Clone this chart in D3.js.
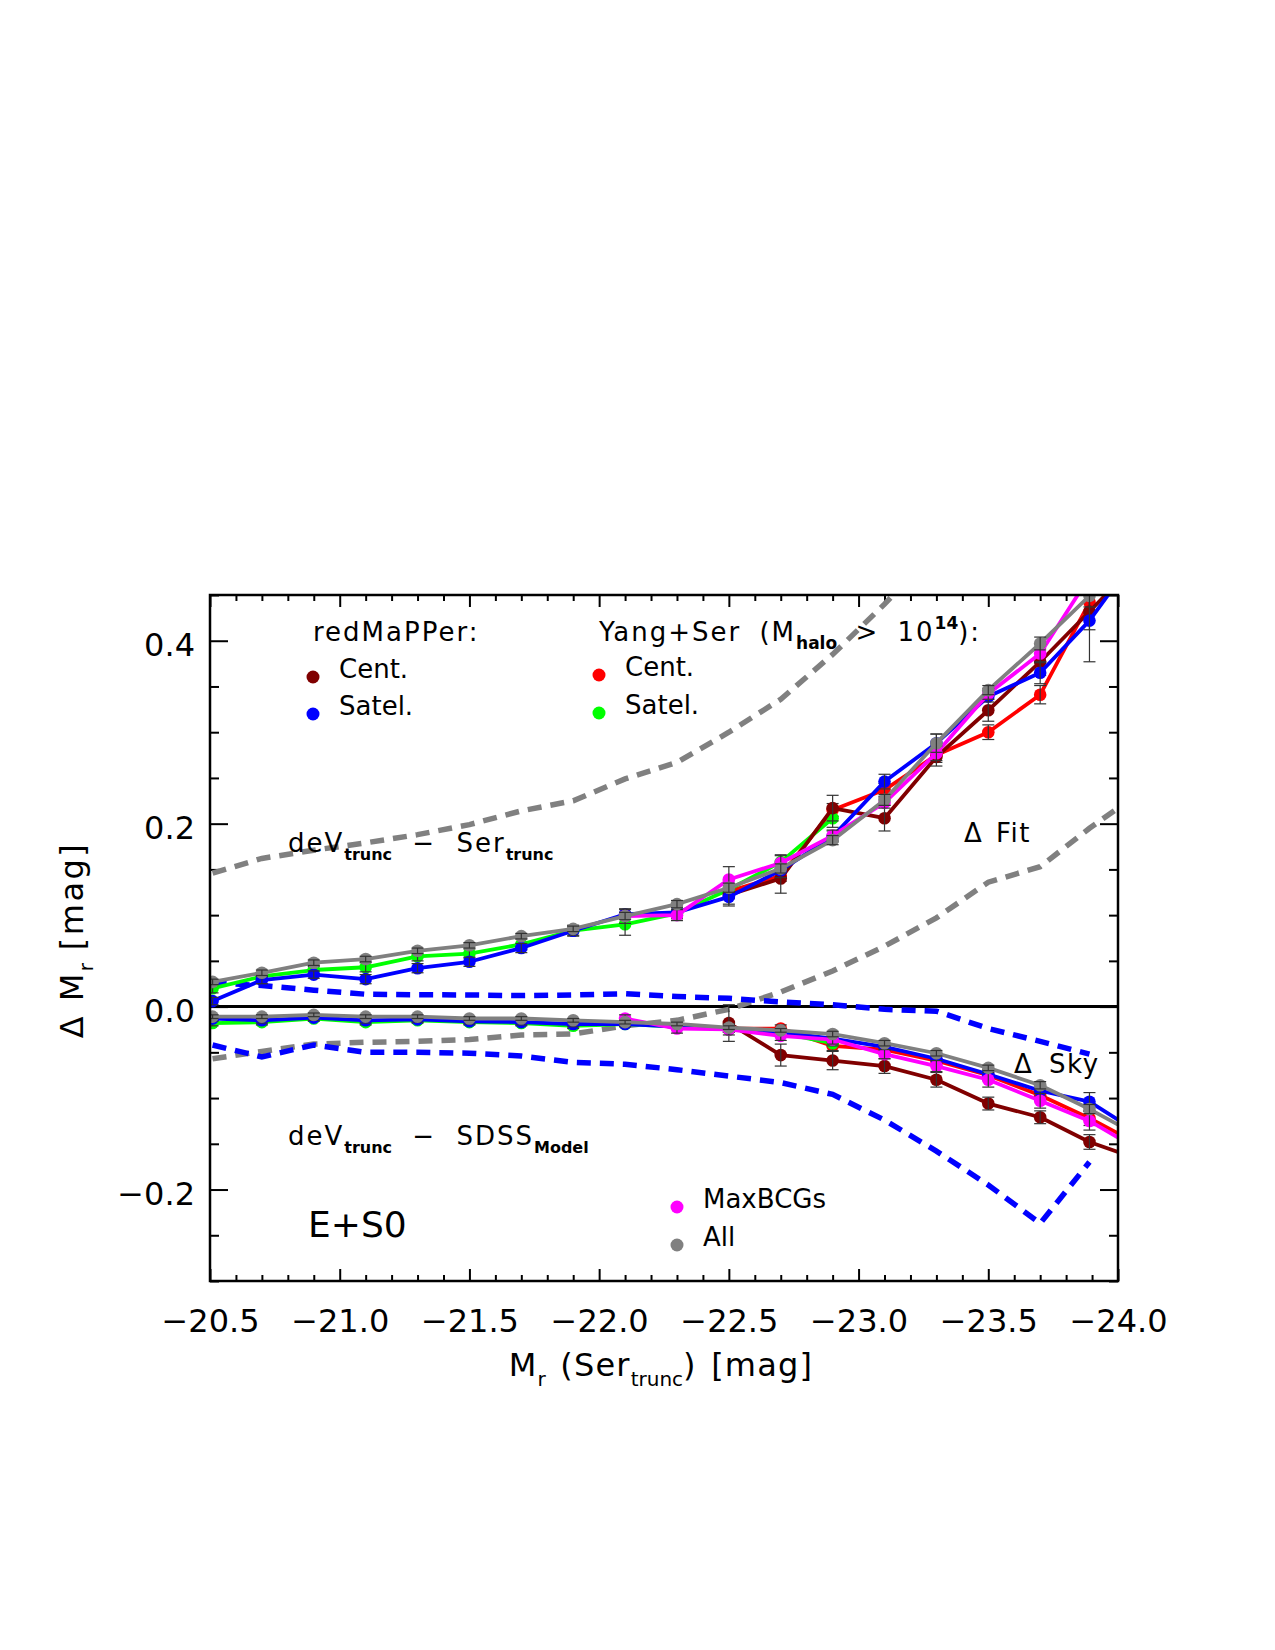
<!DOCTYPE html>
<html lang="en">
<head>
    <meta charset="UTF-8">
    <title>Delta M_r versus M_r (Ser_trunc)</title>
    <style>
        body { margin: 0; background: #fff; }
        svg text { font-family: "DejaVu Sans", sans-serif; white-space: pre; }
    </style>
</head>
<body>
    <div id="chart"></div>

    <script src="https://d3js.org/d3.v7.min.js"></script>
    <script>
        // magnitude bins (mean M_r in each 0.2 mag bin); last one sits past the frame
        const xBins = [-20.51, -20.7, -20.9, -21.1, -21.3, -21.5, -21.7, -21.9, -22.1, -22.3,
                       -22.5, -22.7, -22.9, -23.1, -23.3, -23.5, -23.7, -23.89, -24.09];

        // Delta Fit : deV_trunc - Ser_trunc
        const fitRmCent   = [null, null, null, null, null, null, null, null, null, null,
                             0.122, 0.140, 0.217, 0.206, 0.273, 0.324, 0.377, 0.432, 0.49];
        const fitRmSat    = [0.006, 0.029, 0.035, 0.030, 0.042, 0.049, 0.064, 0.083, 0.101, 0.103,
                             0.120, 0.149, 0.186, 0.246, 0.288, 0.339, 0.365, 0.422, 0.50];
        const fitYangCent = [null, null, null, null, null, null, null, null, null, null,
                             0.126, 0.143, 0.215, 0.237, 0.275, 0.300, 0.341, 0.442, 0.56];
        const fitYangSat  = [0.020, 0.033, 0.040, 0.043, 0.055, 0.058, 0.068, 0.083, 0.090, 0.102,
                             0.128, 0.158, 0.206, null, null, null, null, null, null];
        const fitMaxBCG   = [null, null, null, null, null, null, null, null, 0.099, 0.100,
                             0.139, 0.157, 0.187, 0.223, 0.277, 0.342, 0.386, 0.47, 0.55];
        const fitAll      = [0.027, 0.037, 0.048, 0.052, 0.061, 0.067, 0.077, 0.085, 0.099, 0.112,
                             0.130, 0.151, 0.182, 0.226, 0.288, 0.346, 0.397, 0.449, 0.51];

        const errFitRmCent   = [null, null, null, null, null, null, null, null, null, null,
                                0.012, 0.016, 0.014, 0.014, 0.010, 0.012, 0.015, 0.020, null];
        const errFitRmSat    = [0.004, 0.004, 0.004, 0.005, 0.005, 0.005, 0.005, 0.005, 0.005, 0.006,
                                0.008, 0.008, 0.006, 0.008, 0.010, 0.006, 0.012, 0.045, null];
        const errFitYangCent = [null, null, null, null, null, null, null, null, null, null,
                                0.006, 0.006, 0.007, 0.007, 0.008, 0.008, 0.010, 0.012, null];
        const errFitYangSat  = [0.005, 0.004, 0.004, 0.005, 0.005, 0.005, 0.006, 0.006, 0.012, 0.006,
                                0.010, 0.008, 0.010, null, null, null, null, null, null];
        const errFitMaxBCG   = [null, null, null, null, null, null, null, null, 0.008, 0.006,
                                0.014, 0.008, 0.006, 0.006, 0.008, 0.006, 0.010, 0.015, null];
        const errFitAll      = [0.003, 0.003, 0.003, 0.003, 0.003, 0.003, 0.003, 0.003, 0.004, 0.004,
                                0.005, 0.005, 0.005, 0.006, 0.010, 0.005, 0.007, 0.012, null];

        // Delta Sky : deV_trunc - SDSS_Model
        const skyRmCent   = [null, null, null, null, null, null, null, null, null, null,
                             -0.018, -0.053, -0.059, -0.065, -0.080, -0.106, -0.121, -0.148, -0.168];
        const skyRmSat    = [-0.013, -0.015, -0.012, -0.015, -0.014, -0.016, -0.017, -0.019, -0.019, -0.022,
                             -0.024, -0.028, -0.035, -0.044, -0.057, -0.074, -0.092, -0.104, -0.14];
        const skyYangCent = [null, null, null, null, null, null, null, null, null, null,
                             -0.024, -0.024, -0.043, -0.047, -0.059, -0.075, -0.097, -0.122, -0.152];
        const skyYangSat  = [-0.018, -0.017, -0.013, -0.017, -0.015, -0.017, -0.018, -0.021, -0.019, -0.022,
                             -0.025, -0.029, -0.040, null, null, null, null, null, null];
        const skyMaxBCG   = [null, null, null, null, null, null, null, null, -0.013, -0.024,
                             -0.025, -0.032, -0.036, -0.052, -0.065, -0.080, -0.103, -0.125, -0.158];
        const skyAll      = [-0.011, -0.011, -0.009, -0.011, -0.011, -0.013, -0.013, -0.015, -0.017, -0.019,
                             -0.023, -0.026, -0.030, -0.040, -0.051, -0.067, -0.086, -0.112, -0.143];

        const errSkyRmCent   = [null, null, null, null, null, null, null, null, null, null,
                                0.020, 0.012, 0.010, 0.008, 0.008, 0.007, 0.007, 0.008, null];
        const errSkyRmSat    = [0.003, 0.003, 0.003, 0.003, 0.003, 0.003, 0.003, 0.003, 0.003, 0.003,
                                0.004, 0.004, 0.004, 0.004, 0.005, 0.005, 0.006, 0.010, null];
        const errSkyYangCent = [null, null, null, null, null, null, null, null, null, null,
                                0.004, 0.004, 0.005, 0.005, 0.005, 0.006, 0.006, 0.008, null];
        const errSkyYangSat  = [0.003, 0.003, 0.003, 0.003, 0.003, 0.003, 0.003, 0.003, 0.003, 0.003,
                                0.003, 0.003, 0.003, null, null, null, null, null, null];
        const errSkyMaxBCG   = [null, null, null, null, null, null, null, null, 0.004, 0.005,
                                0.006, 0.005, 0.005, 0.005, 0.006, 0.008, 0.008, 0.010, null];
        const errSkyAll      = [0.002, 0.002, 0.002, 0.002, 0.002, 0.002, 0.002, 0.002, 0.002, 0.002,
                                0.002, 0.002, 0.003, 0.003, 0.003, 0.003, 0.004, 0.005, null];

        // dashed reference curves
        const dashFitGray = [0.146, 0.162, 0.171, 0.179, 0.188, 0.199, 0.214, 0.225, 0.249, 0.267,
                             0.300, 0.336, 0.385, 0.440, 0.500, null, null, null, null];
        const dashSkyGray = [-0.057, -0.049, -0.041, -0.039, -0.038, -0.036, -0.031, -0.030, -0.021, -0.015,
                             -0.003, 0.016, 0.039, 0.066, 0.097, 0.136, 0.153, 0.195, 0.235];
        const dashFitBlue = [0.026, 0.023, 0.018, 0.0135, 0.013, 0.0127, 0.012, 0.0127, 0.014, 0.011,
                             0.009, 0.005, 0.002, -0.003, -0.005, -0.024, -0.038, -0.052, null];
        const dashSkyBlue = [-0.042, -0.055, -0.042, -0.050, -0.050, -0.051, -0.054, -0.061, -0.063, -0.069,
                             -0.076, -0.083, -0.096, -0.124, -0.158, -0.195, -0.237, -0.170, null];

        const xMajor = [-20.5, -21.0, -21.5, -22.0, -22.5, -23.0, -23.5, -24.0];
        const yMajor = [-0.2, 0.0, 0.2, 0.4];

        const series = [
            { color: "#ff0000", fit: fitYangCent, fitErr: errFitYangCent, sky: skyYangCent, skyErr: errSkyYangCent },
            { color: "#00ff00", fit: fitYangSat,  fitErr: errFitYangSat,  sky: skyYangSat,  skyErr: errSkyYangSat },
            { color: "#800000", fit: fitRmCent,   fitErr: errFitRmCent,   sky: skyRmCent,   skyErr: errSkyRmCent },
            { color: "#0000ff", fit: fitRmSat,    fitErr: errFitRmSat,    sky: skyRmSat,    skyErr: errSkyRmSat },
            { color: "#ff00ff", fit: fitMaxBCG,   fitErr: errFitMaxBCG,   sky: skyMaxBCG,   skyErr: errSkyMaxBCG },
            { color: "#808080", fit: fitAll,      fitErr: errFitAll,      sky: skyAll,      skyErr: errSkyAll }
        ];

        const W = 1275, H = 1650;
        const plot = { left: 210, right: 1118, top: 595, bottom: 1281 };

        const svg = d3.select("#chart").append("svg")
            .attr("width", W)
            .attr("height", H)
            .style("background", "#fff");

        const x = d3.scaleLinear().domain([-20.5, -24.0]).range([plot.left, plot.right]);
        const y = d3.scaleLinear().domain([-0.3, 0.45]).range([plot.bottom, plot.top]);

        const fmt = d => (d < 0 ? "\u2212" : "") + Math.abs(d).toFixed(1);
        const isMajor = (list, v) => list.some(m => Math.abs(m - v) < 1e-6);
        const xMinor = x.ticks(35).filter(v => !isMajor(xMajor, v));
        const yMinor = y.ticks(15).filter(v => !isMajor(yMajor, v));

        svg.append("clipPath").attr("id", "clip")
          .append("rect")
            .attr("x", plot.left).attr("y", plot.top)
            .attr("width", plot.right - plot.left)
            .attr("height", plot.bottom - plot.top);

        // axes (ticks point inward on all four sides)
        function styleAxis(g) {
            g.select(".domain").remove();
            g.selectAll("line").attr("stroke", "#000").attr("stroke-width", 2);
            g.attr("font-size", 32).attr("font-family", "DejaVu Sans").attr("fill", "#000");
        }
        const axes = [
            [d3.axisBottom(x).tickValues(xMajor).tickSize(-12).tickPadding(28).tickFormat(fmt), 0, plot.bottom],
            [d3.axisBottom(x).tickValues(xMinor).tickSize(-6).tickFormat(""), 0, plot.bottom],
            [d3.axisTop(x).tickValues(xMajor).tickSize(-12).tickFormat(""), 0, plot.top],
            [d3.axisTop(x).tickValues(xMinor).tickSize(-6).tickFormat(""), 0, plot.top],
            [d3.axisLeft(y).tickValues(yMajor).tickSize(-18).tickPadding(15).tickFormat(fmt), plot.left, 0],
            [d3.axisLeft(y).tickValues(yMinor).tickSize(-9).tickFormat(""), plot.left, 0],
            [d3.axisRight(y).tickValues(yMajor).tickSize(-18).tickFormat(""), plot.right, 0],
            [d3.axisRight(y).tickValues(yMinor).tickSize(-9).tickFormat(""), plot.right, 0]
        ];
        axes.forEach(([ax, tx, ty]) => {
            svg.append("g")
                .attr("transform", `translate(${tx},${ty})`)
                .call(ax)
                .call(styleAxis);
        });
        svg.selectAll(".tick text").attr("fill", "#000");
        svg.selectAll("g").filter(function () { return this.getAttribute("text-anchor") === "end"; })
            .selectAll("text").attr("dy", "0.47em");

        const area = svg.append("g").attr("clip-path", "url(#clip)");

        area.append("line")
            .attr("x1", plot.left).attr("x2", plot.right)
            .attr("y1", y(0)).attr("y2", y(0))
            .attr("stroke", "#000").attr("stroke-width", 3);

        const line = d3.line()
            .defined(d => d[1] !== null)
            .x(d => x(d[0]))
            .y(d => y(d[1]));
        const pts = vals => xBins.map((xv, i) => [xv, vals[i], i]);

        [[dashFitGray, "#808080"], [dashSkyGray, "#808080"], [dashFitBlue, "#0000ff"], [dashSkyBlue, "#0000ff"]]
            .forEach(([vals, col]) => {
                area.append("path")
                    .datum(pts(vals))
                    .attr("d", line)
                    .attr("fill", "none")
                    .attr("stroke", col)
                    .attr("stroke-width", 5.5)
                    .attr("stroke-dasharray", "14,9");
            });

        function drawSeries(vals, errs, color) {
            const data = pts(vals);
            area.append("path")
                .datum(data)
                .attr("d", line)
                .attr("fill", "none")
                .attr("stroke", color)
                .attr("stroke-width", 3.8)
                .attr("stroke-linejoin", "round");

            const on = data.filter(d => d[1] !== null);
            area.append("g").selectAll("circle")
                .data(on)
                .join("circle")
                .attr("cx", d => x(d[0]))
                .attr("cy", d => y(d[1]))
                .attr("r", 6.3)
                .attr("fill", color);

            const eb = area.append("g")
                .attr("stroke", "#333")
                .attr("stroke-width", 1.2)
                .selectAll("g")
                .data(on.filter(d => errs[d[2]]))
                .join("g");
            eb.append("line")
                .attr("x1", d => x(d[0])).attr("x2", d => x(d[0]))
                .attr("y1", d => y(d[1] - errs[d[2]]))
                .attr("y2", d => y(d[1] + errs[d[2]]));
            [-1, 1].forEach(s => {
                eb.append("line")
                    .attr("x1", d => x(d[0]) - 6).attr("x2", d => x(d[0]) + 6)
                    .attr("y1", d => y(d[1] + s * errs[d[2]]))
                    .attr("y2", d => y(d[1] + s * errs[d[2]]));
            });
        }

        series.forEach(s => {
            drawSeries(s.fit, s.fitErr, s.color);
            drawSeries(s.sky, s.skyErr, s.color);
        });

        svg.append("rect")
            .attr("x", plot.left).attr("y", plot.top)
            .attr("width", plot.right - plot.left)
            .attr("height", plot.bottom - plot.top)
            .attr("fill", "none")
            .attr("stroke", "#000")
            .attr("stroke-width", 2.5);

        // text with sub/superscripts; extra spacing only on the full-size parts
        function richText(parent, px, py, parts, size, opts = {}) {
            const t = parent.append("text")
                .attr("x", px).attr("y", py)
                .attr("font-size", size)
                .attr("fill", "#000");
            if (opts.anchor) t.attr("text-anchor", opts.anchor);
            if (opts.ws) t.attr("word-spacing", opts.ws);
            let shift = 0;
            parts.forEach(p => {
                const target = p.sub ? size * 0.3 : p.sup ? -size * 0.45 : 0;
                const ts = t.append("tspan").attr("dy", target - shift).text(p.t);
                if (p.sub || p.sup) {
                    ts.attr("font-size", opts.small || size * 0.64).attr("letter-spacing", 0);
                    if (opts.bold) ts.attr("font-weight", "bold");
                } else if (opts.ls) {
                    ts.attr("letter-spacing", opts.ls);
                }
                shift = target;
            });
            return t;
        }

        richText(svg, 313, 641, [{ t: "redMaPPer:" }], 26, { ls: 2 });
        richText(svg, 599, 641, [
            { t: "Yang+Ser (M" }, { t: "halo", sub: true }, { t: " > 10" }, { t: "14", sup: true }, { t: "):" }
        ], 26, { bold: true, small: 17, ls: 2, ws: 8 });

        const legend = [
            [313, 677, "#800000", "Cent."], [313, 714, "#0000ff", "Satel."],
            [599, 675, "#ff0000", "Cent."], [599, 713, "#00ff00", "Satel."],
            [677, 1207, "#ff00ff", "MaxBCGs"], [677, 1245, "#808080", "All"]
        ];
        legend.forEach(([lx, ly, col, label]) => {
            svg.append("circle").attr("cx", lx).attr("cy", ly).attr("r", 6.5).attr("fill", col);
            richText(svg, lx + 26, ly + 1, [{ t: label }], 26);
        });

        richText(svg, 288, 852, [
            { t: "deV" }, { t: "trunc", sub: true }, { t: " \u2212 Ser" }, { t: "trunc", sub: true }
        ], 26, { bold: true, small: 16, ls: 2, ws: 10 });
        richText(svg, 288, 1145, [
            { t: "deV" }, { t: "trunc", sub: true }, { t: " \u2212 SDSS" }, { t: "Model", sub: true }
        ], 26, { bold: true, small: 16, ls: 2, ws: 10 });
        richText(svg, 964, 842, [{ t: "\u0394 Fit" }], 26, { ls: 1.5, ws: 3 });
        richText(svg, 1014, 1073, [{ t: "\u0394 Sky" }], 26, { ls: 1.5, ws: 6 });
        richText(svg, 308, 1237, [{ t: "E+S0" }], 36);

        richText(svg, 661, 1376, [
            { t: "M" }, { t: "r", sub: true }, { t: " (Ser" }, { t: "trunc", sub: true }, { t: ") [mag]" }
        ], 32, { anchor: "middle", small: 20, ls: 1.2, ws: 3 });

        const yTitle = svg.append("g").attr("transform", "translate(83,940) rotate(-90)");
        richText(yTitle, 0, 0, [
            { t: "\u0394 M" }, { t: "r", sub: true }, { t: " [mag]" }
        ], 32, { anchor: "middle", small: 20, ls: 2.5 });
    </script>
</body>
</html>
